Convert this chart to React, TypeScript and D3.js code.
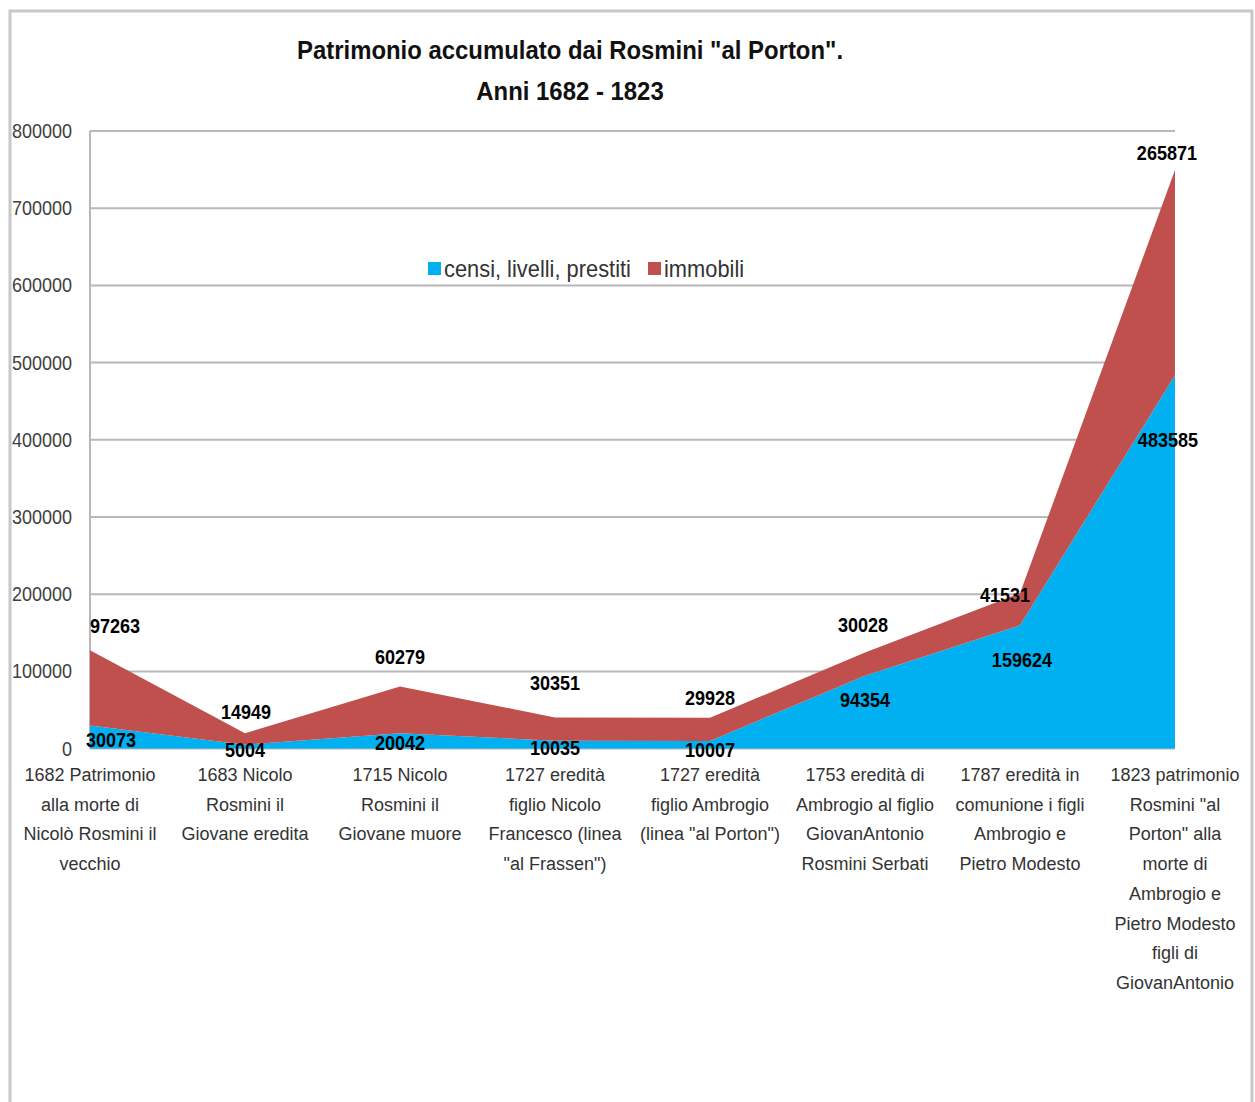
import React from "react";
import * as d3 from "d3";

const categories: string[][] = [
  ["1682 Patrimonio", "alla morte di", "Nicolò Rosmini il", "vecchio"],
  ["1683 Nicolo", "Rosmini il", "Giovane eredita"],
  ["1715 Nicolo", "Rosmini il", "Giovane muore"],
  ["1727 eredità", "figlio Nicolo", "Francesco (linea", "\"al Frassen\")"],
  ["1727 eredità", "figlio Ambrogio", "(linea \"al Porton\")"],
  ["1753 eredità di", "Ambrogio al figlio", "GiovanAntonio", "Rosmini Serbati"],
  ["1787 eredità in", "comunione i figli", "Ambrogio e", "Pietro Modesto"],
  ["1823 patrimonio", "Rosmini \"al", "Porton\" alla", "morte di", "Ambrogio e", "Pietro Modesto", "figli di", "GiovanAntonio"],
];

const censi: number[] = [30073, 5004, 20042, 10035, 10007, 94354, 159624, 483585];
const immobili: number[] = [97263, 14949, 60279, 30351, 29928, 30028, 41531, 265871];

const seriesNames = ["censi, livelli, prestiti", "immobili"];
const seriesColors = ["#00b0f0", "#c0504d"];
const yTicks: number[] = [0, 100000, 200000, 300000, 400000, 500000, 600000, 700000, 800000];

// label nudges (px) relative to each data point anchor
const censiLabelDx = [21, 0, 0, 0, 0, 0, 2, -7];
const censiLabelDy = [15, 5, 10, 7, 9, 24, 35, 65];
const immobiliLabelDx = [25, 1, 0, 0, 0, -2, -15, -8];
const immobiliLabelDy = [-24, -21, -30, -34, -20, -28, 2, -17];

const FONT = "'Liberation Sans', Arial, sans-serif";

function SText(props: {
  x: number;
  y: number;
  sx: number;
  size: number;
  anchor?: string;
  weight?: string;
  fill?: string;
  children: React.ReactNode;
}) {
  const { x, y, sx, size, anchor = "start", weight = "normal", fill = "#000", children } = props;
  return (
    <text
      transform={`translate(${x},${y}) scale(${sx},1)`}
      textAnchor={anchor}
      fontSize={size}
      fontWeight={weight}
      fill={fill}
    >
      {children}
    </text>
  );
}

export default function App() {
  const W = 1255;
  const H = 1102;
  const left = 90, right = 1175, top = 131, bottom = 748.6;

  const idx = categories.map((_, i) => String(i));
  const x = d3.scalePoint<string>().domain(idx).range([left, right]);
  const y = d3.scaleLinear().domain([0, 800000]).range([bottom, top]);

  const rows = categories.map((_, i) => ({ i, censi: censi[i], immobili: immobili[i] }));
  const stack = d3.stack<any>().keys(["censi", "immobili"]);
  const stacked = stack(rows);
  const area = d3
    .area<any>()
    .x((d) => x(String(d.data.i)) as number)
    .y0((d) => y(d[0]))
    .y1((d) => y(d[1]));

  return (
    <svg width={W} height={H} style={{ position: "absolute", left: 0, top: 0, background: "#fff" }} fontFamily={FONT}>
      <rect x={0} y={0} width={W} height={H} fill="#fff" />
      {/* frame */}
      <rect x={10} y={11} width={1242} height={1120} fill="none" stroke="#c8c8c8" strokeWidth={3} />

      {/* title */}
      <SText x={570} y={59} sx={0.92} size={26} anchor="middle" weight="bold" fill="#111">
        Patrimonio accumulato dai Rosmini "al Porton".
      </SText>
      <SText x={570} y={100} sx={0.92} size={26} anchor="middle" weight="bold" fill="#111">
        Anni 1682 - 1823
      </SText>

      {/* gridlines */}
      {yTicks.map((t) => (
        <line key={t} x1={left} x2={right} y1={y(t)} y2={y(t)} stroke="#b8b8b8" strokeWidth={2} />
      ))}
      <line x1={left} x2={left} y1={top} y2={bottom} stroke="#b8b8b8" strokeWidth={2} />

      {/* y tick labels */}
      {yTicks.map((t) => (
        <SText key={"l" + t} x={72} y={y(t) + 7} sx={0.9} size={20} anchor="end" fill="#404040">
          {t}
        </SText>
      ))}

      {/* areas */}
      {stacked.map((s, k) => (
        <path key={s.key} d={area(s as any) as string} fill={seriesColors[k]} />
      ))}

      {/* legend */}
      <rect x={428} y={262} width={13} height={13} fill={seriesColors[0]} />
      <SText x={444} y={277} sx={0.95} size={23} fill="#333">{seriesNames[0]}</SText>
      <rect x={648} y={262} width={13} height={13} fill={seriesColors[1]} />
      <SText x={664} y={277} sx={0.95} size={23} fill="#333">{seriesNames[1]}</SText>

      {/* data labels */}
      {censi.map((v, i) => (
        <SText
          key={"c" + i}
          x={(x(String(i)) as number) + censiLabelDx[i]}
          y={y(v) + censiLabelDy[i] + 7}
          sx={0.86}
          size={21}
          anchor="middle"
          weight="bold"
        >
          {v}
        </SText>
      ))}
      {immobili.map((v, i) => (
        <SText
          key={"m" + i}
          x={(x(String(i)) as number) + immobiliLabelDx[i]}
          y={y(v + censi[i]) + immobiliLabelDy[i] + 7}
          sx={0.86}
          size={21}
          anchor="middle"
          weight="bold"
        >
          {v}
        </SText>
      ))}

      {/* category labels */}
      {categories.map((lines, i) => (
        <text key={"x" + i} textAnchor="middle" fontSize={18} fill="#333">
          {lines.map((ln, j) => (
            <tspan key={j} x={x(String(i)) as number} y={781 + j * 29.7}>
              {ln}
            </tspan>
          ))}
        </text>
      ))}
    </svg>
  );
}
